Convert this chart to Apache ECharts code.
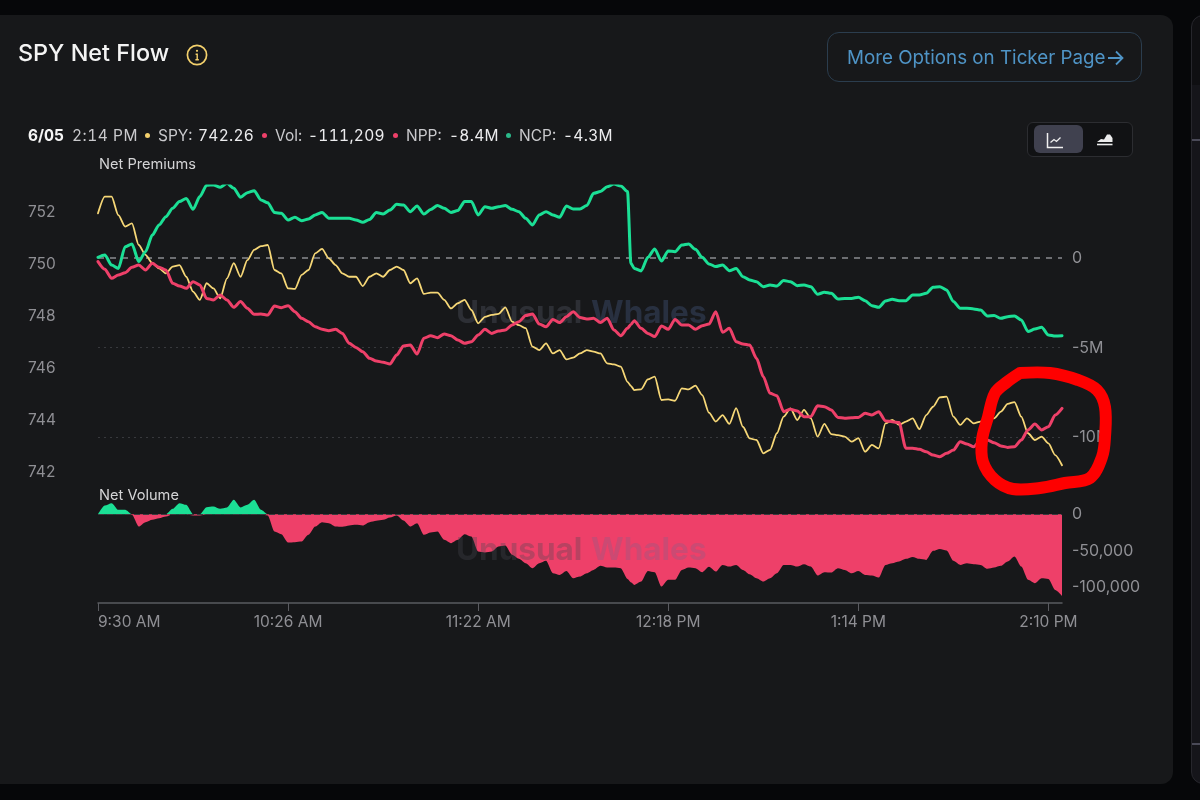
<!DOCTYPE html>
<html><head><meta charset="utf-8">
<title>SPY Net Flow</title>
<script src="https://cdn.jsdelivr.net/npm/echarts@6/dist/echarts.min.js"></script>
<style>
html,body{margin:0;padding:0;background:#060709;width:1200px;height:800px;overflow:hidden;font-family:Inter,"Noto Sans",sans-serif}
#card{position:absolute;left:-12px;top:15px;width:1185px;height:769px;background:#17181a;border-radius:12px}
#side{position:absolute;left:1191px;top:15px;width:40px;height:769px;background:linear-gradient(#0f0f12 0,#0f0f12 69px,#15151a 69px);border:1px solid #26262c;border-radius:12px;box-sizing:border-box}
#side i{position:absolute;left:0;width:100%;height:2px;background:#4a4a58}
#chart{position:absolute;left:0;top:0;width:1200px;height:800px}
.t{position:absolute;white-space:nowrap}
#title{left:18px;top:39px;font-size:23.4px;font-weight:500;color:#f4f4f4;line-height:28px}
#btn{left:827px;top:32px;width:315px;height:50px;box-sizing:border-box;border:1px solid #2b3d4e;border-radius:12px;color:#4f94c6;font-size:18.8px;line-height:50px;padding-left:19px}
.i{top:126px;font-size:15.5px;line-height:20px;color:#c9c9cc;font-feature-settings:"tnum"}
.v{color:#ececee;letter-spacing:.3px}
.d{top:133px;width:5px;height:5px;border-radius:50%;position:absolute}
#toggle{position:absolute;left:1027px;top:122px;width:106px;height:35px;box-sizing:border-box;border:1px solid #2c2d31;border-radius:6px;background:#111214}
#act{position:absolute;left:6px;top:2px;width:49px;height:28px;border-radius:6px;background:#40414f}
</style></head><body>
<div id="card"></div>
<div id="side"><i style="top:123px"></i><i style="top:727px"></i></div>
<div id="chart"></div>
<div class="t" id="title">SPY Net Flow</div>
<svg style="position:absolute;left:186px;top:44px" width="22" height="22" viewBox="0 0 22 22"><circle cx="11" cy="11" r="9.6" fill="none" stroke="#f3d06c" stroke-width="1.7"/><circle cx="11" cy="6.8" r="1.1" fill="#f3d06c"/><path d="M9.6 10.2H11.2V15.6M9.4 15.8H12.8" fill="none" stroke="#f3d06c" stroke-width="1.4"/></svg>
<div class="t" id="btn">More Options on Ticker Page<svg style="position:absolute;left:279px;top:16px" width="18" height="18" viewBox="0 0 18 18"><path d="M1 9H15M9 2.5L15.5 9L9 15.5" fill="none" stroke="#4f94c6" stroke-width="1.8"/></svg></div>
<div class="t i" style="left:28px;color:#f5f5f5;font-weight:700">6/05</div>
<div class="t i" style="left:72px;letter-spacing:.5px">2:14 PM</div>
<div class="d" style="left:145px;background:#f3d06c"></div>
<div class="t i" style="left:158px">SPY:</div><div class="t i v" style="left:198px">742.26</div>
<div class="d" style="left:262px;background:#ee4069"></div>
<div class="t i" style="left:275px">Vol:</div><div class="t i v" style="left:308px">-111,209</div>
<div class="d" style="left:393px;background:#ee4069"></div>
<div class="t i" style="left:406px">NPP:</div><div class="t i v" style="left:449px">-8.4M</div>
<div class="d" style="left:506px;background:#2bb98a"></div>
<div class="t i" style="left:519px">NCP:</div><div class="t i v" style="left:563px">-4.3M</div>
<div id="toggle"><div id="act"></div>
<svg style="position:absolute;left:18px;top:9px" width="20" height="18" viewBox="0 0 20 18"><path d="M1.5 1V15.5H17" fill="none" stroke="#f0f0f0" stroke-width="1.5"/><path d="M4.5 10.5L8 7.5L10.5 9.5L14.5 5.5" fill="none" stroke="#f0f0f0" stroke-width="1.3"/></svg>
<svg style="position:absolute;left:68px;top:9px" width="18" height="16" viewBox="0 0 18 16"><path d="M1 10L5 7L8 7.5L11 2.5L14 2.5L16.5 6V10Z" fill="#ececec"/><path d="M1 12.5H16.5" stroke="#ececec" stroke-width="1.6"/></svg>
</div>
<script>
const minutes = [0,2,4,6,8,10,12,14,16,18,20,22,24,26,28,30,32,34,36,38,40,42,44,46,48,50,52,54,56,58,60,62,64,66,68,70,72,74,76,78,80,82,84,86,88,90,92,94,96,98,100,102,104,106,108,110,112,114,116,118,120,122,124,126,128,130,132,134,136,138,140,142,144,146,148,150,152,154,156,157,158,160,162,164,166,168,170,172,174,176,178,180,182,184,186,188,190,192,194,196,198,200,202,204,206,208,210,212,214,216,218,220,222,224,226,228,230,232,234,236,238,240,242,244,246,248,250,252,254,256,258,260,262,264,266,268,270,272,274,276,278,280,282,284];
const spyPrice = [751.95,752.59,752.59,751.88,751.44,751.56,750.73,750.35,750.03,749.83,749.64,749.90,749.96,749.51,748.94,748.62,749.26,749.06,748.68,749.45,750.03,749.51,750.15,750.54,750.69,750.73,749.77,749.64,749.06,749.04,749.58,749.77,750.41,750.58,750.22,749.96,749.64,749.51,749.51,749.15,749.51,749.64,749.51,749.77,749.90,749.77,749.26,749.45,748.85,748.90,748.90,748.62,748.29,748.49,748.62,748.23,747.72,747.97,748.04,748.08,748.33,747.78,747.65,747.53,746.82,746.69,746.95,746.56,746.69,746.33,746.40,746.56,746.69,746.63,746.56,746.18,746.14,746.05,745.47,745.31,745.15,745.18,745.56,745.67,744.77,744.79,744.74,745.22,745.18,745.32,744.96,744.28,743.94,744.19,743.85,744.46,743.74,743.29,743.23,742.72,742.85,743.49,744.13,744.45,744.00,744.39,744.06,743.36,743.85,743.46,743.42,743.36,743.17,743.30,742.78,743.04,742.91,743.87,744.00,743.81,743.94,744.06,743.65,744.19,744.51,744.87,744.90,744.13,743.81,744.06,743.87,743.94,744.10,744.06,744.32,744.62,744.69,744.13,743.49,743.23,743.36,743.10,742.65,742.26];
const netPutPremium = [-0.20,-0.63,-1.13,-0.95,-0.82,-0.52,-0.39,-0.67,-0.30,-0.52,-0.67,-1.41,-1.56,-1.69,-1.32,-1.50,-2.25,-2.34,-2.06,-2.34,-2.75,-2.43,-2.80,-3.14,-3.12,-3.18,-2.67,-2.77,-2.66,-2.99,-3.36,-3.55,-3.83,-3.97,-4.05,-3.97,-4.20,-4.75,-4.98,-5.22,-5.59,-5.74,-5.81,-5.90,-5.40,-4.90,-4.85,-5.35,-4.47,-4.33,-4.44,-4.23,-4.33,-4.57,-4.75,-4.66,-4.29,-3.97,-4.20,-4.07,-4.01,-3.73,-3.55,-3.21,-3.12,-3.68,-3.83,-3.42,-3.60,-3.27,-2.99,-3.32,-3.40,-3.36,-3.60,-3.36,-4.01,-4.33,-3.92,-3.70,-3.49,-3.92,-4.20,-4.38,-3.79,-3.97,-3.42,-3.73,-3.73,-3.97,-3.77,-3.68,-2.99,-4.14,-3.92,-4.66,-4.79,-4.85,-5.59,-6.61,-7.54,-7.67,-8.56,-8.43,-8.52,-8.84,-8.84,-8.23,-8.28,-8.47,-8.88,-8.93,-8.90,-8.88,-8.65,-8.75,-8.56,-9.08,-9.12,-9.17,-10.60,-10.60,-10.66,-10.79,-10.98,-11.07,-10.88,-10.70,-10.23,-10.36,-10.51,-10.14,-10.14,-10.29,-10.47,-10.55,-10.51,-10.14,-9.58,-9.25,-9.58,-9.40,-8.75,-8.38];
const netCallPremium = [0.04,0.17,-0.39,-0.58,0.63,0.78,-0.20,0.35,1.28,1.84,2.30,2.77,3.14,3.32,2.71,3.42,4.05,4.07,3.94,4.16,3.88,3.38,3.64,3.75,3.23,3.08,2.53,2.49,2.12,2.27,2.08,2.17,2.40,2.54,2.21,2.21,2.21,2.21,2.12,1.99,2.15,2.53,2.45,2.67,2.99,2.95,2.58,2.90,2.45,2.70,2.92,2.77,2.54,2.64,3.14,3.14,2.40,2.86,2.77,2.86,2.92,2.71,2.58,2.21,1.84,2.40,2.58,2.40,2.27,2.90,2.73,2.73,2.92,3.60,3.70,3.97,4.12,4.01,3.70,-0.30,-0.58,-0.72,0.04,0.50,-0.17,0.39,0.35,0.72,0.78,0.48,0.04,-0.33,-0.48,-0.39,-0.71,-0.58,-1.04,-1.23,-1.32,-1.60,-1.50,-1.56,-1.26,-1.32,-1.54,-1.50,-1.60,-2.02,-1.91,-1.97,-2.28,-2.25,-2.25,-2.19,-2.38,-2.66,-2.75,-2.40,-2.30,-2.38,-2.38,-2.06,-2.06,-1.97,-1.63,-1.60,-1.78,-2.43,-2.80,-2.80,-2.84,-2.90,-3.23,-3.21,-3.36,-3.27,-3.23,-3.45,-4.10,-3.96,-3.86,-4.29,-4.35,-4.33];
const netVolume = [0,11800,15000,5900,5900,-900,-16800,-10900,-7700,-5500,-3200,7300,15000,12700,-1800,-1800,9500,10500,7300,9100,19500,9100,12700,19500,5900,-1800,-23600,-27300,-38600,-38200,-37300,-28200,-16800,-10900,-12300,-16800,-17300,-15500,-14500,-15500,-10900,-9100,-7700,-4500,-1800,-8600,-16800,-12300,-28200,-25000,-23600,-35000,-39500,-35000,-27300,-30500,-50900,-52300,-50900,-44100,-42700,-55400,-60900,-66800,-73600,-66800,-63600,-80400,-82700,-77300,-87300,-85000,-80400,-75900,-70400,-72700,-72700,-73600,-88200,-92700,-96400,-91800,-77300,-79100,-98600,-89500,-89500,-75900,-72700,-73600,-79100,-71800,-78200,-69100,-71400,-69100,-75900,-81800,-87300,-91800,-87300,-80400,-69100,-69100,-71400,-68200,-71400,-83600,-79100,-79500,-73600,-75900,-80400,-77300,-82700,-83600,-86400,-69100,-66800,-64500,-60900,-58200,-60900,-62300,-50000,-47300,-49500,-63600,-69100,-66800,-68200,-69100,-74500,-72700,-70400,-64500,-57700,-71400,-89500,-94100,-87300,-88200,-103200,-111209];
const timeTicks = [0,56,112,168,224,280];
const priceTicks = [742,744,746,748,750,752];
const premiumTicks = [0,-5,-10];
const volumeTicks = [0,-50000,-100000];
const ringPath = [[1020,373],[1050,373],[1078,380],[1097,390],[1105,407],[1105,437],[1102,457],[1090,478],[1065,483],[1040,488],[1013,489],[995,480],[983,462],[982,440],[988,417],[995,393],[1007,382],[1020,373]];

const YELLOW='#f6d777', PINK='#ee4069', GREEN='#1bdf95', LABEL='#8f8f94', FONT='Inter';
const zip = vals => minutes.map((m,i)=>[m,vals[i]]);
const fmtTime = m => { const t=570+m, h=Math.floor(t/60), mm=String(t%60).padStart(2,'0'); return (h>12?h-12:h)+':'+mm+' '+(h>=12?'PM':'AM'); };
const line = (name,vals,yi,color,width,z,extra) => Object.assign({name,type:'line',data:zip(vals),xAxisIndex:0,yAxisIndex:yi,showSymbol:false,smooth:0.25,smoothMonotone:'x',lineStyle:{color,width,cap:'round',join:'round'},itemStyle:{color},z,animation:false},extra||{});
const area = (name,vals,color) => ({name,type:'line',data:zip(vals),xAxisIndex:1,yAxisIndex:2,showSymbol:false,smooth:0.25,smoothMonotone:'x',lineStyle:{width:0},itemStyle:{color},areaStyle:{color,opacity:1,origin:0},z:3,animation:false});
const wm = (left,top,text,fill,z) => ({type:'text',left,top,z,silent:true,style:{text,fill,font:'700 31.5px Inter'}});

const chart = echarts.init(document.getElementById('chart'));
chart.setOption({
  backgroundColor:'transparent',animation:false,
  textStyle:{fontFamily:FONT},
  title:[
    {text:'Net Premiums',left:99,top:157,padding:0,textStyle:{color:'#d4d4d6',fontSize:14.6,fontWeight:400,fontFamily:FONT}},
    {text:'Net Volume',left:99,top:488,padding:0,textStyle:{color:'#d4d4d6',fontSize:14.6,fontWeight:400,fontFamily:FONT}}
  ],
  grid:[{left:98,top:186,width:964,height:312},{left:98,top:498,width:964,height:105}],
  xAxis:[
    {type:'value',gridIndex:0,min:0,max:284,show:false,splitLine:{show:false}},
    {type:'value',gridIndex:1,min:0,max:284,splitLine:{show:false},
     axisLine:{show:true,onZero:false,lineStyle:{color:'#5a5b60',width:1.5}},
     axisTick:{show:true,customValues:timeTicks,length:8,lineStyle:{color:'#5a5b60'}},
     axisLabel:{show:true,customValues:timeTicks,formatter:fmtTime,color:LABEL,fontSize:15.5,fontFamily:FONT,margin:11,alignMinLabel:'left',hideOverlap:false}}
  ],
  yAxis:[
    {type:'value',gridIndex:0,position:'left',min:741,max:753,splitLine:{show:false},axisLine:{show:false},axisTick:{show:false},
     axisLabel:{customValues:priceTicks,align:'left',margin:70,padding:[2,0,0,0],color:LABEL,fontSize:15.5,fontFamily:FONT}},
    {type:'value',gridIndex:0,position:'right',min:-13.37,max:4.01,splitLine:{show:false},axisLine:{show:false},axisTick:{show:false},
     axisLabel:{customValues:premiumTicks,align:'left',margin:10,padding:[2,0,0,0],color:LABEL,fontSize:16,fontFamily:FONT,formatter:v=>v===0?'0':v+'M'}},
    {type:'value',gridIndex:1,position:'right',min:-121000,max:22000,splitLine:{show:false},axisLine:{show:false},axisTick:{show:false},
     axisLabel:{customValues:volumeTicks,align:'left',margin:10,padding:[2,0,0,0],color:LABEL,fontSize:16,fontFamily:FONT,
       formatter:v=>v===0?'0':v.toLocaleString('en-US')}}
  ],
  series:[
    line('SPY',spyPrice,0,YELLOW,1.8,3),
    line('NPP',netPutPremium,1,PINK,3,4,{markLine:{silent:true,symbol:'none',animation:false,label:{show:false},z:1,data:[
      {yAxis:premiumTicks[0],lineStyle:{color:'#8a8a90',type:[6,6],width:1.5}},
      {yAxis:premiumTicks[1],lineStyle:{color:'#38393d',type:[2,4],width:1}},
      {yAxis:premiumTicks[2],lineStyle:{color:'#38393d',type:[2,4],width:1}}]}}),
    line('NCP',netCallPremium,1,GREEN,3,5),
    area('Net Volume up',netVolume.map(v=>Math.max(v,0)),GREEN),
    Object.assign(area('Net Volume down',netVolume.map(v=>Math.min(v,0)),PINK),{
      markLine:{silent:true,symbol:'none',animation:false,label:{show:false},data:[{yAxis:volumeTicks[0],lineStyle:{color:'#3c3a3e',type:[6,3],width:1}}]}})
  ],
  graphic:[
    wm(456,298,'Unusual','#2d2f35',1),wm(591,298,'Whales','#283040',1),
    wm(456,535,'Unusual','rgba(70,72,82,0.32)',60),wm(591,535,'Whales','rgba(80,110,150,0.22)',60),
    {type:'polyline',z:100,silent:true,shape:{points:ringPath,smooth:0.35},style:{fill:'none',stroke:'#fe0000',lineWidth:12,lineCap:'round',lineJoin:'round'}}
  ]
});
</script>
</body></html>
